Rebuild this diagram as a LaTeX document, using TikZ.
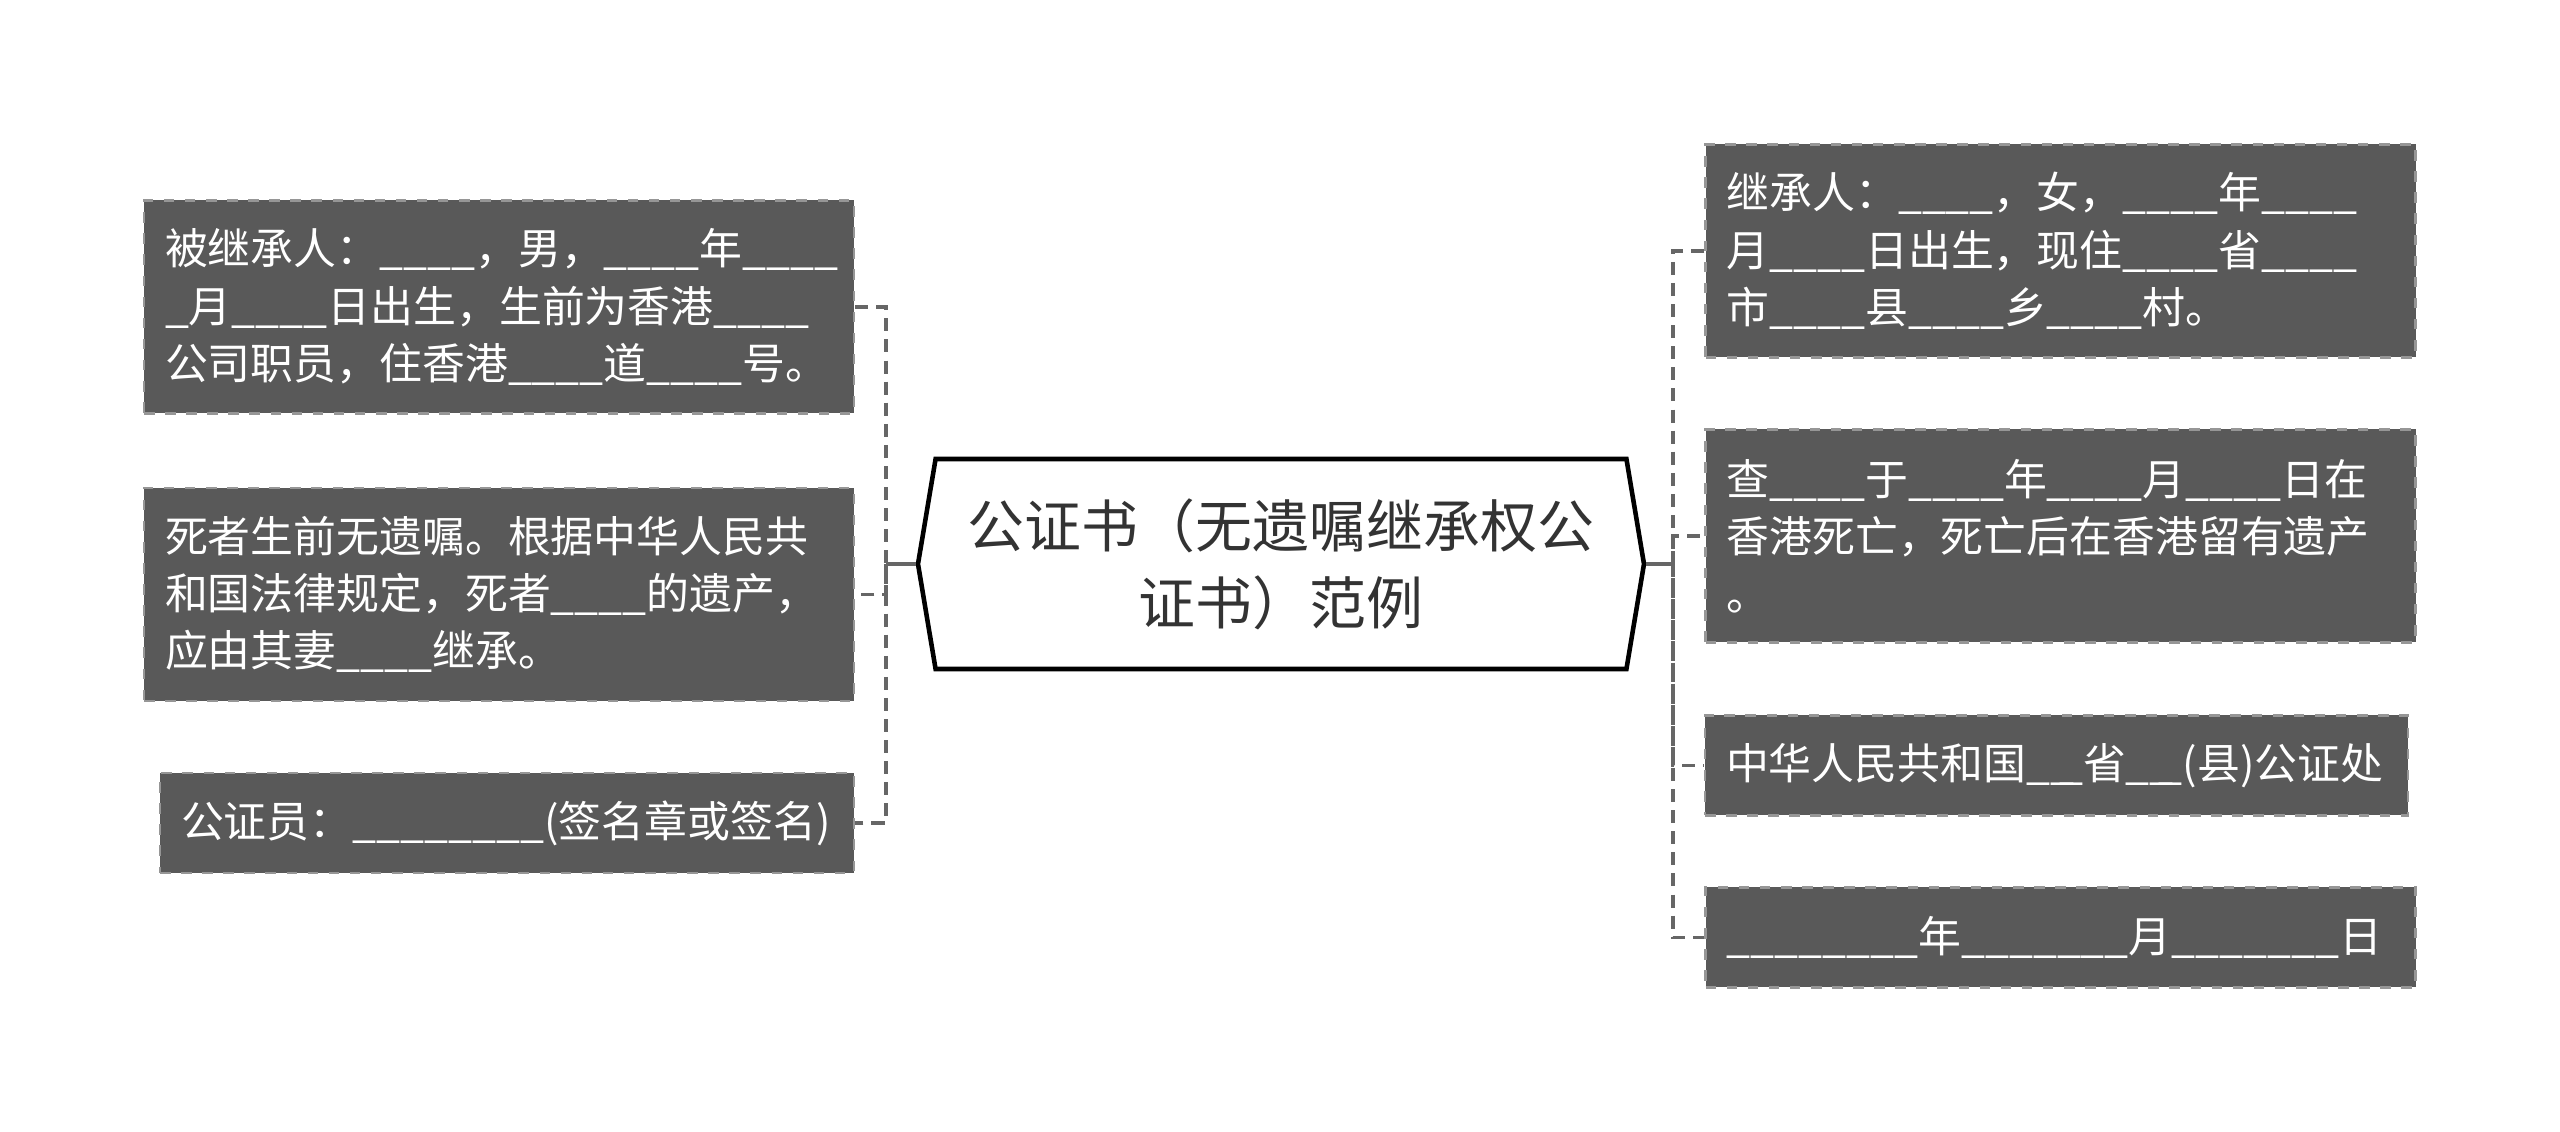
\documentclass[tikz,border=0pt]{standalone}
\usepackage{fontspec}
\setmainfont{Noto Sans CJK SC}
\usetikzlibrary{shapes.symbols,calc}
\definecolor{leaffill}{RGB}{89,89,89}
\definecolor{leafline}{RGB}{150,150,150}
\definecolor{linkgray}{RGB}{102,102,102}
\definecolor{roottext}{RGB}{51,51,51}
\newcommand{\blank}[1]{\foreach \k in {1,...,#1}{\_}}
\newcommand{\shortblank}{\_\_\kern-0.35em\_}
\tikzset{
  leaf/.style={
    draw=leafline,
    dashed,
    line width=0.7pt,
    fill=leaffill,
    text=white,
    rectangle,
    align=left,
    inner xsep=0.21cm,
    inner ysep=0pt,
    minimum height=2.13cm,
    text width=6.68cm,
    font=\fontsize{12.2}{16.3}\selectfont,
  },
  slim/.style={leaf, minimum height=1cm},
  root/.style={
    signal,
    signal to=west and east,
    signal pointer angle=161,
    draw=black,
    line width=1.3pt,
    fill=white,
    text=roottext,
    align=center,
    minimum width=7.26cm,
    minimum height=2.10cm,
    font=\fontsize{16.2}{21.9}\selectfont,
  },
  trunk/.style={draw=linkgray, line width=0.9pt},
  branch/.style={draw=linkgray, line width=0.9pt, dash pattern=on 3.7pt off 2.3pt},
}
\begin{document}
\begin{tikzpicture}
  \useasboundingbox (0,0) rectangle (25.6,11.32);

  \node[root] (root) at (12.81,5.68) {公证书（无遗嘱继承权公\\证书）范例};

  % left side
  \node[leaf] (decedent) at (4.99,8.25) {被继承人：\blank{4}，男，\blank{4}年\blank{4}\\\blank{1}月\blank{4}日出生，生前为香港\blank{4}\\公司职员，住香港\blank{4}道\blank{4}号。};
  \node[leaf] (estate) at (4.99,5.375) {死者生前无遗嘱。根据中华人民共\\和国法律规定，死者\blank{4}的遗产，\\应由其妻\blank{4}继承。};
  \node[slim, text width=6.52cm] (notary) at (5.07,3.09) {公证员：\blank{8}(签名章或签名)};

  % right side
  \node[leaf] (heir) at (20.605,8.81) {继承人：\blank{4}，女，\blank{4}年\blank{4}\\月\blank{4}日出生，现住\blank{4}省\blank{4}\\市\blank{4}县\blank{4}乡\blank{4}村。};
  \node[leaf] (death) at (20.605,5.96) {查\blank{4}于\blank{4}年\blank{4}月\blank{4}日在\\香港死亡，死亡后在香港留有遗产\\。};
  \node[slim, text width=6.61cm] (office) at (20.565,3.665) {中华人民共和国\shortblank 省\shortblank(县)公证处};
  \node[slim] (date) at (20.605,1.945) {\blank{8}年\blank{7}月\blank{7}日};

  \coordinate (lsp) at (8.86,5.68);
  \coordinate (rsp) at (16.73,5.68);

  \draw[trunk] (root.west) -- (lsp);
  \draw[trunk] (root.east) -- (rsp);
  \draw[branch] (decedent.east) -| (lsp) |- (notary.east);
  \draw[branch] (lsp) |- (estate.east);
  \draw[branch] (heir.west) -| (rsp) |- (date.west);
  \draw[branch] (rsp) |- (death.west);
  \draw[branch] (rsp) |- (office.west);
\end{tikzpicture}
\end{document}
